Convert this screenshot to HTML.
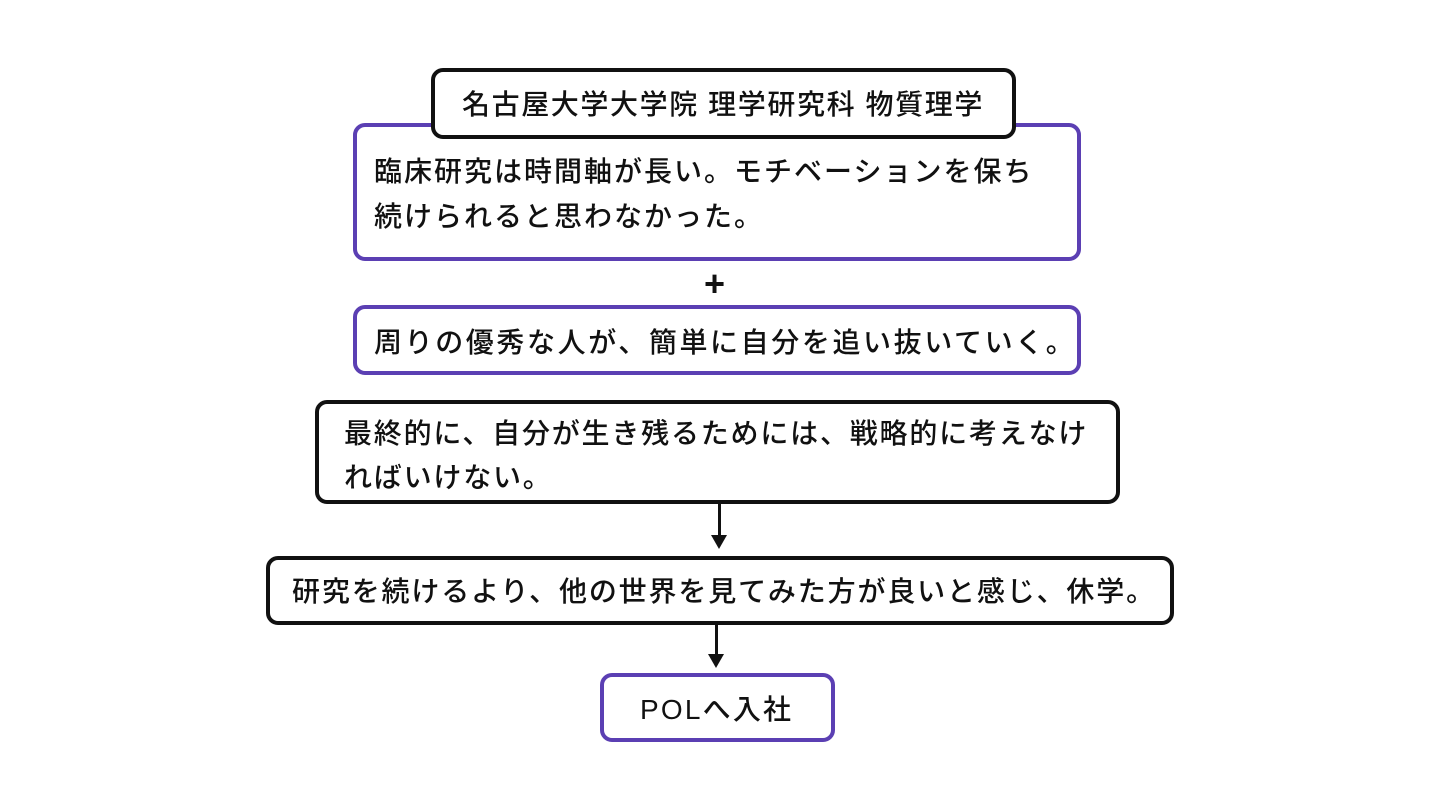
<!DOCTYPE html>
<html><head><meta charset="utf-8"><style>
body{margin:0;width:1440px;height:810px;background:#fff;position:relative;overflow:hidden;font-family:"Liberation Sans","Noto Sans CJK JP",sans-serif;color:#111;}
.b{position:absolute;box-sizing:border-box;background:#fff;border-radius:12px;}
.k{border:4px solid #111;}
.p{border:4px solid #5b3fb3;}
.t{position:absolute;white-space:nowrap;font-size:28px;font-weight:500;letter-spacing:2px;line-height:28px;}
.arrow{position:absolute;width:3px;background:#111;}
.head{position:absolute;width:0;height:0;border-left:8px solid transparent;border-right:8px solid transparent;border-top:14px solid #111;}
</style></head><body>
<div class="b p" style="left:353px;top:123px;width:728px;height:138px;"></div>
<div class="b k" style="left:431px;top:68px;width:585px;height:71px;"></div>
<div class="t" style="left:462px;top:91px;letter-spacing:1.6px;">名古屋大学大学院 理学研究科 物質理学</div>
<div class="t" style="left:374px;top:158px;">臨床研究は時間軸が長い。モチベーションを保ち</div>
<div class="t" style="left:374px;top:203px;">続けられると思わなかった。</div>
<div class="t" style="left:704px;top:266px;font-size:36px;font-weight:700;letter-spacing:0;line-height:36px;">+</div>
<div class="b p" style="left:353px;top:305px;width:728px;height:70px;"></div>
<div class="t" style="left:374px;top:329px;letter-spacing:2.6px;">周りの優秀な人が、簡単に自分を追い抜いていく。</div>
<div class="b k" style="left:315px;top:400px;width:805px;height:104px;"></div>
<div class="t" style="left:344px;top:420px;letter-spacing:1.8px;">最終的に、自分が生き残るためには、戦略的に考えなけ</div>
<div class="t" style="left:344px;top:464px;letter-spacing:1.8px;">ればいけない。</div>
<div class="arrow" style="left:718px;top:503px;height:34px;"></div>
<div class="head" style="left:711px;top:535px;"></div>
<div class="b k" style="left:266px;top:556px;width:908px;height:69px;"></div>
<div class="t" style="left:292px;top:578px;letter-spacing:1.85px;">研究を続けるより、他の世界を見てみた方が良いと感じ、休学。</div>
<div class="arrow" style="left:715px;top:624px;height:32px;"></div>
<div class="head" style="left:708px;top:654px;"></div>
<div class="b p" style="left:600px;top:673px;width:235px;height:69px;"></div>
<div class="t" style="left:640px;top:696px;letter-spacing:2.2px;">POLへ入社</div>
</body></html>
